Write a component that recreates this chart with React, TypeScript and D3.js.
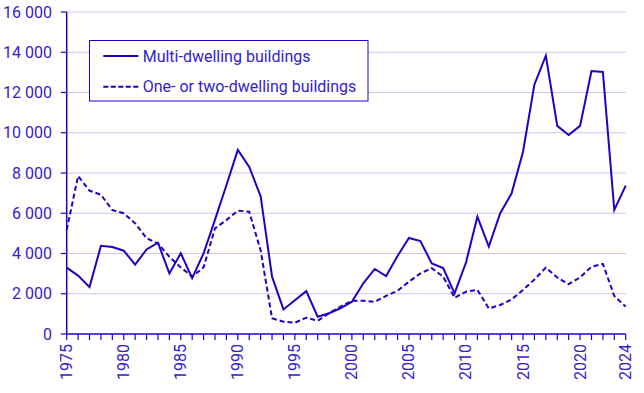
import React from "react";
import * as d3 from "d3";

const years: number[] = d3.range(1975, 2025);

const multiDwelling: number[] = [
  3300, 2900, 2330, 4380, 4320, 4140, 3450, 4200, 4540, 3010,
  4010, 2780, 4010, 5680, 7390, 9150, 8300, 6850, 2850, 1220,
  1680, 2130, 860, 1030, 1280, 1600, 2520, 3230, 2880, 3880,
  4770, 4620, 3510, 3280, 2020, 3550, 5830, 4340, 6000, 6990,
  9060, 12400, 13830, 10340, 9890, 10340, 13070, 13020, 6160, 7370,
];

const oneTwoDwelling: number[] = [
  5170, 7850, 7120, 6920, 6160, 6000, 5500, 4760, 4500, 3840,
  3310, 2850, 3310, 5250, 5660, 6130, 6080, 4150, 780, 610,
  560, 810, 660, 1030, 1360, 1650, 1650, 1600, 1890, 2150,
  2600, 3010, 3270, 2850, 1800, 2100, 2200, 1270, 1440, 1720,
  2190, 2710, 3300, 2810, 2480, 2810, 3340, 3480, 1890, 1360,
];

const yTicks: number[] = [0, 2000, 4000, 6000, 8000, 10000, 12000, 14000, 16000];
const xLabelYears: number[] = [1975, 1980, 1985, 1990, 1995, 2000, 2005, 2010, 2015, 2020, 2024];
const seriesNames: string[] = ["Multi-dwelling buildings", "One- or two-dwelling buildings"];

const LINE = "#2200c0";
const TEXT = "#3322cc";
const GRID = "#c9c5f0";
const FONT = "Roboto, 'Liberation Sans', Arial, sans-serif";

const fmt = (v: number) => {
  const s = String(v);
  return s.length > 3 ? s.slice(0, s.length - 3) + " " + s.slice(-3) : s;
};

export default function App() {
  const W = 644;
  const H = 393;
  const x = d3.scaleLinear().domain([1975, 2024]).range([66.7, 625.7]);
  const y = d3.scaleLinear().domain([0, 16000]).range([334, 12]);

  const line = d3
    .line<number>()
    .x((_, i) => x(years[i]))
    .y((d) => y(d));

  const x0 = x(1975);
  const x1 = x(2024);

  return (
    <svg
      width={W}
      height={H}
      style={{ position: "absolute", left: 0, top: 0, background: "#fff" }}
      fontFamily={FONT}
    >
      {yTicks.filter((t) => t > 0).map((t) => (
        <line key={"g" + t} x1={x0} x2={x1} y1={y(t)} y2={y(t)} stroke={GRID} strokeWidth={1} />
      ))}
      <line x1={x0} x2={x0} y1={y(16000)} y2={y(0)} stroke={LINE} strokeWidth={1.5} />
      {yTicks.map((t) => (
        <g key={"yt" + t}>
          <line x1={x0 - 6} x2={x0} y1={y(t)} y2={y(t)} stroke={LINE} strokeWidth={1.2} />
          <text
            x={52}
            y={y(t)}
            textAnchor="end"
            dominantBaseline="central"
            fontSize={16}
            fill={TEXT}
          >
            {fmt(t)}
          </text>
        </g>
      ))}
      <line x1={x0} x2={x1} y1={y(0)} y2={y(0)} stroke={LINE} strokeWidth={1.5} />
      {years.map((yr) => (
        <line key={"xt" + yr} x1={x(yr)} x2={x(yr)} y1={y(0)} y2={y(0) + 6} stroke={LINE} strokeWidth={1.2} />
      ))}
      {xLabelYears.map((yr) => (
        <text
          key={"xl" + yr}
          transform={`translate(${x(yr)},${344}) rotate(-90)`}
          textAnchor="end"
          dominantBaseline="central"
          fontSize={16}
          fill={TEXT}
        >
          {yr}
        </text>
      ))}
      <path d={line(oneTwoDwelling) || ""} fill="none" stroke={LINE} strokeWidth={2} strokeDasharray="5,3" />
      <path d={line(multiDwelling) || ""} fill="none" stroke={LINE} strokeWidth={2} />
      <rect x={89.5} y={40.5} width={278.5} height={60.5} fill="#fff" stroke={LINE} strokeWidth={1} />
      <line x1={103.3} x2={138.3} y1={56} y2={56} stroke={LINE} strokeWidth={2} />
      <line x1={103.3} x2={138.3} y1={86.7} y2={86.7} stroke={LINE} strokeWidth={2} strokeDasharray="5,2.5" />
      <text x={142.7} y={56} dominantBaseline="central" fontSize={16} fill={TEXT}>
        {seriesNames[0]}
      </text>
      <text x={142.7} y={86.7} dominantBaseline="central" fontSize={16} fill={TEXT}>
        {seriesNames[1]}
      </text>
    </svg>
  );
}
